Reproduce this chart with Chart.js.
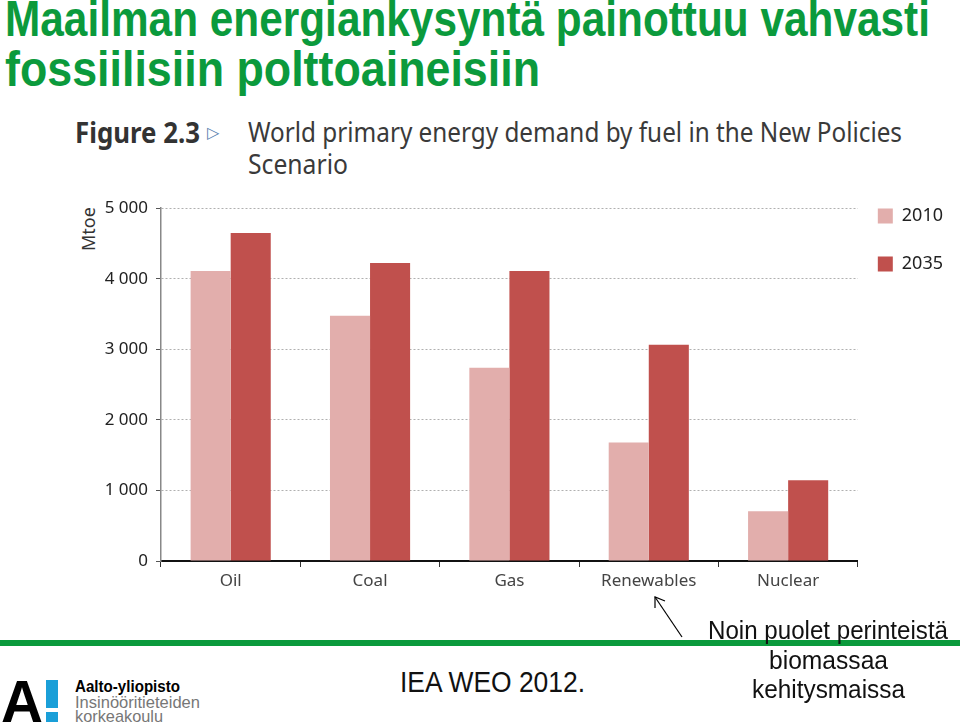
<!DOCTYPE html>
<html>
<head>
<meta charset="utf-8">
<script src="https://cdn.jsdelivr.net/npm/chart.js@4"></script>
<style>
  html, body { margin: 0; padding: 0; background: #fff; }
  body { width: 960px; height: 724px; position: relative; overflow: hidden; font-family: "Liberation Sans", Arial, sans-serif; }
  .abs { position: absolute; white-space: nowrap; transform-origin: 0 0; }
  .title { color: #0b9a3c; font-weight: bold; font-size: 50px; line-height: 1; }
  .cap { color: #3a3a3a; font-size: 28px; line-height: 1; font-family: "Noto Sans", sans-serif; }
  .note { color: #111; font-size: 26px; line-height: 1; }
  #wrap { position: absolute; left: 70px; top: 190px; width: 893px; height: 410px; }
</style>
</head>
<body>
<div class="abs title" id="t1" data-w="925" style="left:5px;top:-6px;">Maailman energiankysyntä painottuu vahvasti</div>
<div class="abs title" id="t2" data-w="535" style="left:5px;top:44px;">fossiilisiin polttoaineisiin</div>

<div class="abs cap" data-w="125" style="left:75px;top:118px;font-weight:bold;color:#333;">Figure 2.3</div>
<div class="abs cap" style="left:207px;top:124px;font-size:16px;color:#5a7fb0;">▷</div>
<div class="abs cap" data-w="654" style="left:248px;top:117px;">World primary energy demand by fuel in the New Policies</div>
<div class="abs cap" data-w="100" style="left:248px;top:149px;">Scenario</div>

<div class="abs" style="left:76px;top:251px;transform:rotate(-90deg);font-family:'Noto Sans',sans-serif;font-size:18px;color:#333;">Mtoe</div>

<div id="wrap"><canvas id="energia"></canvas></div>

<div class="abs" style="left:0;top:640px;width:960px;height:6px;background:#0b9a3c;"></div>
<svg class="abs" style="left:640px;top:585px;" width="60" height="60">
  <line x1="42" y1="52" x2="15" y2="12" stroke="#000" stroke-width="1.2"/>
  <polyline points="15,23 15,12 25,16" fill="none" stroke="#000" stroke-width="1.2"/>
</svg>
<div class="abs note" data-w="240" style="left:708px;top:617px;">Noin puolet perinteistä</div>
<div class="abs note" data-w="119" style="left:769px;top:647px;">biomassaa</div>
<div class="abs note" data-w="153" style="left:752px;top:676px;">kehitysmaissa</div>
<div class="abs note" data-w="185" style="left:400px;top:668px;font-size:29px;">IEA WEO 2012.</div>

<div class="abs" data-w="42" style="left:1px;top:672px;font-weight:bold;font-size:60px;line-height:1;color:#000;">A</div>
<div class="abs" style="left:46px;top:680px;width:12px;height:28px;background:#1a9fd8;"></div>
<div class="abs" style="left:46px;top:712px;width:12px;height:10px;background:#1a9fd8;"></div>
<div class="abs" data-w="105" style="left:75px;top:677px;font-weight:bold;font-size:17px;color:#000;">Aalto-yliopisto</div>
<div class="abs" data-w="125" style="left:75px;top:693px;font-size:17px;color:#777;">Insinööritieteiden</div>
<div class="abs" data-w="88" style="left:75px;top:707px;font-size:17px;color:#777;">korkeakoulu</div>

<script>
// Mtoe, luettu kuvasta
const polttoaineet = ["Oil", "Coal", "Gas", "Renewables", "Nuclear"];
const vuosi2010 = [4110, 3475, 2740, 1680, 706];
const vuosi2035 = [4650, 4225, 4110, 3065, 1145];
const yTicks = [0, 1000, 2000, 3000, 4000, 5000];

// venytä tekstit oikeaan leveyteen
document.querySelectorAll("[data-w]").forEach(function (el) {
  const w = el.getBoundingClientRect().width;
  el.style.transform = "scaleX(" + (Number(el.dataset.w) / w) + ")";
});

const tuhat = function (v) {
  return String(v).replace(/\B(?=(\d{3})+(?!\d))/g, " ");
};

new Chart(document.getElementById("energia"), {
  type: "bar",
  data: {
    labels: polttoaineet,
    datasets: [
      {
        label: "2010",
        data: vuosi2010,
        backgroundColor: "#e2aeac",
        barPercentage: 1,
        categoryPercentage: 0.575,
      },
      {
        label: "2035",
        data: vuosi2035,
        backgroundColor: "#c0504d",
        barPercentage: 1,
        categoryPercentage: 0.575,
      },
    ],
  },
  options: {
    responsive: true,
    maintainAspectRatio: false,
    animation: false,
    layout: { padding: { top: 17 } },
    plugins: {
      tooltip: { enabled: false },
      legend: {
        position: "right",
        align: "start",
        labels: {
          boxWidth: 15,
          boxHeight: 15,
          padding: 30,
          color: "#222",
          font: { family: "Noto Sans", size: 18 },
        },
      },
    },
    scales: {
      x: {
        afterFit: function (s) { s.height = 39; },
        grid: {
          offset: true,
          drawOnChartArea: false,
          tickLength: 6,
          color: "#333",
        },
        border: { color: "#111", width: 2 },
        ticks: {
          color: "#444",
          padding: 4,
          font: { family: "Noto Sans", size: 17 },
        },
      },
      y: {
        min: 0,
        max: 5000,
        afterFit: function (s) { s.width = 91; },
        afterBuildTicks: function (s) {
          s.ticks = yTicks.map(function (v) { return { value: v }; });
        },
        grid: {
          color: "#b0b0b0",
          tickLength: 5,
          tickColor: "#555",
          tickBorderDash: [],
        },
        border: { color: "#888", width: 1.5, dash: [2, 2] },
        ticks: {
          color: "#222",
          padding: 8,
          font: { family: "Noto Sans", size: 17 },
          callback: function (v) { return tuhat(v); },
        },
      },
    },
  },
  plugins: [{
    id: "selite",
    afterLayout: function (chart) {
      // selite ylemmäs ja vasemmalle kuten kuvassa
      chart.legend.top -= 30;
      chart.legend.bottom -= 30;
      chart.legend.left -= 10;
      chart.legend.right -= 10;
    },
  }],
});
</script>
</body>
</html>
